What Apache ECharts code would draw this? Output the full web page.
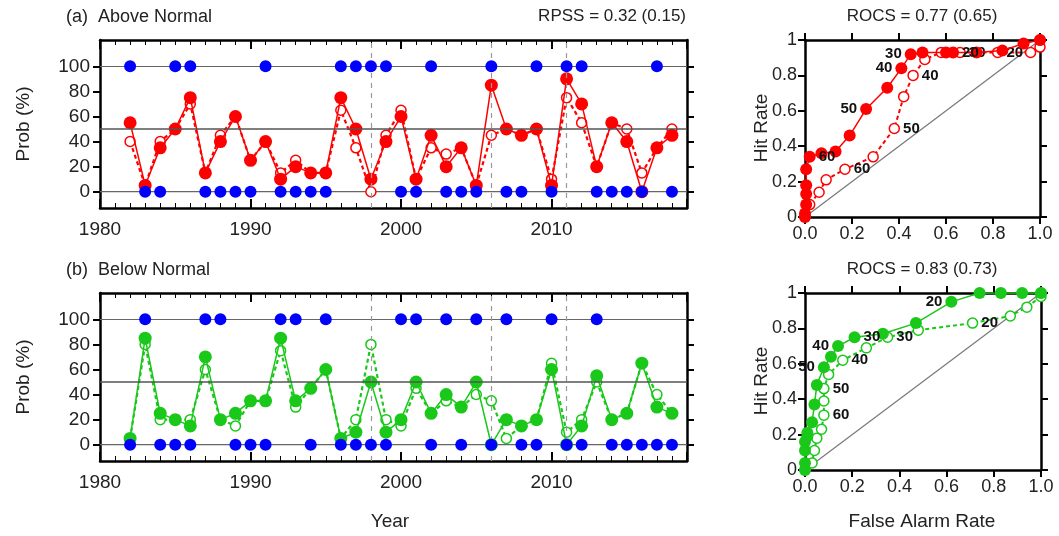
<!DOCTYPE html>
<html><head><meta charset="utf-8">
<script src="https://cdn.jsdelivr.net/npm/echarts@6/dist/echarts.min.js"></script>
<style>html,body{margin:0;background:#fff}#c{width:1059px;height:536px}</style>
</head><body><div id="c"></div>
<script>
var years = [1982,1983,1984,1985,1986,1987,1988,1989,1990,1991,1992,1993,1994,1995,1996,1997,1998,1999,2000,
  2001,2002,2003,2004,2005,2006,2007,2008,2009,2010,2011,2012,2013,2014,2015,2016,2017,2018];
// (a) above normal
var aboveProb = [55,5,35,50,75,15,40,60,25,40,10,20,15,15,75,50,10,40,60,10,45,20,35,5,85,50,45,50,5,90,70,20,55,40,0,35,45];
var aboveCv   = [40,5,40,50,70,15,45,60,25,40,15,25,15,15,65,35,0,45,65,10,35,30,35,5,45,50,45,50,10,75,55,20,55,50,15,35,50];
var aboveObs  = [100,0,0,100,100,0,0,0,0,100,0,0,0,0,100,100,100,100,0,0,100,0,0,0,100,0,0,100,0,100,100,0,0,0,0,100,0];
// (b) below normal
var belowProb = [5,85,25,20,15,70,20,25,35,35,85,35,45,60,5,10,50,10,20,50,25,40,30,50,0,20,15,20,60,0,15,55,20,25,65,30,25];
var belowCv   = [5,80,20,20,20,60,20,15,35,35,75,30,45,60,5,20,80,20,15,45,25,35,30,40,35,5,15,20,65,10,20,50,20,25,65,40,25];
var belowObs  = [0,100,0,0,0,100,100,0,0,0,100,100,0,100,0,0,0,0,100,100,0,100,0,100,0,100,0,0,100,0,0,100,0,0,0,0,0];
var splitYears = [1998, 2006, 2011];

// ROC curves [false alarm rate, hit rate]
var rocAbove = [[0,0],[0,0.02],[0.005,0.07],[0.005,0.13],[0.005,0.18],[0.005,0.27],[0.02,0.34],[0.07,0.36],[0.13,0.37],
  [0.19,0.46],[0.26,0.61],[0.35,0.73],[0.41,0.84],[0.45,0.92],[0.50,0.93],[0.60,0.93],[0.63,0.93],[0.73,0.93],[0.84,0.94],[0.93,0.98],[1,1]];
var rocAboveLab = {6:'60',10:'50',12:'40',13:'30',16:'20'};
var rocAboveCv = [[0,0],[0.02,0.07],[0.06,0.14],[0.09,0.21],[0.17,0.27],[0.29,0.34],[0.38,0.5],[0.42,0.68],[0.46,0.8],
  [0.51,0.89],[0.58,0.93],[0.66,0.93],[0.82,0.93],[0.96,0.93],[1,0.96],[1,1]];
var rocAboveCvLab = {4:'60',6:'50',8:'40',11:'30',12:'20'};
var rocBelow = [[0,0],[0,0.04],[0,0.11],[0,0.16],[0.01,0.19],[0.01,0.21],[0.03,0.27],[0.04,0.37],[0.05,0.48],[0.08,0.58],
  [0.11,0.64],[0.14,0.7],[0.21,0.75],[0.33,0.77],[0.47,0.83],[0.62,0.95],[0.74,1],[0.83,1],[0.92,1],[1,1]];
var rocBelowLab = {9:'50',11:'40',12:'30',15:'20'};
var rocBelowCv = [[0,0],[0.03,0.04],[0.04,0.11],[0.05,0.18],[0.07,0.23],[0.08,0.31],[0.08,0.39],[0.08,0.46],[0.1,0.54],
  [0.16,0.62],[0.26,0.69],[0.35,0.75],[0.48,0.79],[0.71,0.83],[0.87,0.87],[0.94,0.92],[1,0.98],[1,1]];
var rocBelowCvLab = {5:'60',7:'50',9:'40',11:'30',13:'20'};

var RED = '#ff0000', GREEN = '#19c819', BLUE = '#0000ff';
var FONT = 'Liberation Sans';
var chart = echarts.init(document.getElementById('c'));

function pairs(vals){ return years.map(function(y,i){ return [y, vals[i]]; }); }
function rocData(pts, labs, pos){
  return pts.map(function(p,i){
    if (labs[i] === undefined) return p;
    var left = (pos === 'auto') ? (labs[i] === '50' || labs[i] === '40' || labs[i] === '30') && pts === rocAbove || (pts === rocBelow && labs[i] !== '30') : false;
    return {value: p, label: {show: true, formatter: labs[i], position: pos === 'auto' ? (left ? 'left' : 'right') : pos,
      fontWeight: 'bold', fontSize: 15, color: '#111', fontFamily: FONT, distance: 3}};
  });
}

var grids = [
  {left: 100, top: 40, width: 587, height: 168},
  {left: 100, top: 293, width: 587, height: 168},
  {left: 805, top: 40, width: 235, height: 177},
  {left: 805, top: 293, width: 236, height: 177}
];
var axLine = {show: true, onZero: false, lineStyle: {color: '#000', width: 2.5}};
var xAxes = [], yAxes = [];
[0,1].forEach(function(g){
  xAxes.push({type:'value', gridIndex:g, min:1980, max:2019, interval:10, axisLine: axLine,
    axisTick:{inside:true, length:9, lineStyle:{width:2}}, minorTick:{show:true, splitNumber:10, length:5, lineStyle:{color:'#000'}},
    axisLabel:{fontSize:19, color:'#222', fontFamily:FONT, margin:12, showMaxLabel:false, formatter:function(v){return String(v);}}, splitLine:{show:false}});
  xAxes.push({type:'value', gridIndex:g, position:'top', min:1980, max:2019, interval:10, axisLine: axLine,
    axisTick:{inside:true, length:9, lineStyle:{width:2}}, minorTick:{show:true, splitNumber:10, length:5, lineStyle:{color:'#000'}},
    axisLabel:{show:false}, splitLine:{show:false}});
  yAxes.push({type:'value', gridIndex:g, min:-13, max:121, axisLine: axLine,
    axisTick:{inside:false, length:7, lineStyle:{width:2}, customValues:[0,20,40,60,80,100]},
    axisLabel:{fontSize:19, color:'#222', fontFamily:FONT, margin:10, customValues:[0,20,40,60,80,100]}, splitLine:{show:false}});
  yAxes.push({type:'value', gridIndex:g, position:'right', min:-13, max:121, axisLine: axLine,
    axisTick:{inside:false, length:7, lineStyle:{width:2}, customValues:[0,20,40,60,80,100]},
    axisLabel:{show:false}, splitLine:{show:false}});
});
[2,3].forEach(function(g){
  xAxes.push({type:'value', gridIndex:g, min:0, max:1, interval:0.2, axisLine: axLine,
    axisTick:{inside:false, length:7, lineStyle:{width:2}},
    axisLabel:{fontSize:18, color:'#222', fontFamily:FONT, margin:8, formatter:function(v){return v.toFixed(1);}}, splitLine:{show:false}});
  xAxes.push({type:'value', gridIndex:g, position:'top', min:0, max:1, interval:0.2, axisLine: axLine,
    axisTick:{inside:false, length:7, lineStyle:{width:2}}, axisLabel:{show:false}, splitLine:{show:false}});
  yAxes.push({type:'value', gridIndex:g, min:0, max:1, interval:0.2, axisLine: axLine,
    axisTick:{inside:false, length:7, lineStyle:{width:2}},
    axisLabel:{fontSize:18, color:'#222', fontFamily:FONT, margin:8, formatter:function(v){return v===0||v===1?String(v):v.toFixed(1);}}, splitLine:{show:false}});
  yAxes.push({type:'value', gridIndex:g, position:'right', min:0, max:1, interval:0.2, axisLine: axLine,
    axisTick:{inside:false, length:7, lineStyle:{width:2}}, axisLabel:{show:false}, splitLine:{show:false}});
});

var series = [];
function probPanel(g, prob, cv, obs, color){
  var xi = g*2, yi = g*2;
  series.push({type:'line', xAxisIndex:xi, yAxisIndex:yi, data:[[1980,0],[2019,0]], symbol:'none', silent:true,
    lineStyle:{color:'#666', width:1.2},
    markLine:{symbol:'none', silent:true, label:{show:false}, data:
      [{yAxis:50, lineStyle:{color:'#555', type:'solid', width:1.5}}, {yAxis:100, lineStyle:{color:'#666', type:'solid', width:1.2}}]
      .concat(splitYears.map(function(y){ return {xAxis:y, lineStyle:{color:'#999', type:[5,5], width:1.2}}; }))}});
  series.push({type:'line', xAxisIndex:xi, yAxisIndex:yi, data:pairs(cv), symbol:'circle', symbolSize:10,
    itemStyle:{color:'#fff', borderColor:color, borderWidth:1.5}, lineStyle:{color:color, width:2.2, type:[4,3]}, z:3});
  series.push({type:'line', xAxisIndex:xi, yAxisIndex:yi, data:pairs(prob), symbol:'circle', symbolSize:13,
    itemStyle:{color:color}, lineStyle:{color:color, width:1.5}, z:4});
  series.push({type:'scatter', xAxisIndex:xi, yAxisIndex:yi, data:pairs(obs), symbolSize:12, itemStyle:{color:BLUE, opacity:1}, z:5});
}
probPanel(0, aboveProb, aboveCv, aboveObs, RED);
probPanel(1, belowProb, belowCv, belowObs, GREEN);

function rocPanel(g, pts, labs, cvPts, cvLabs, color){
  var xi = 4 + (g-2)*2, yi = xi;
  series.push({type:'line', xAxisIndex:xi, yAxisIndex:yi, data:[[0,0],[1,1]], symbol:'none', silent:true, lineStyle:{color:'#777', width:1.2}});
  series.push({type:'line', xAxisIndex:xi, yAxisIndex:yi, data:rocData(cvPts, cvLabs, 'right'), symbol:'circle', symbolSize:10,
    itemStyle:{color:'#fff', borderColor:color, borderWidth:1.5}, lineStyle:{color:color, width:2, type:[4,3]}, z:3});
  series.push({type:'line', xAxisIndex:xi, yAxisIndex:yi, data:rocData(pts, labs, 'auto'), symbol:'circle', symbolSize:12,
    itemStyle:{color:color}, lineStyle:{color:color, width:1.5}, z:4});
}
rocPanel(2, rocAbove, rocAboveLab, rocAboveCv, rocAboveCvLab, RED);
rocPanel(3, rocBelow, rocBelowLab, rocBelowCv, rocBelowCvLab, GREEN);

function txt(x, y, s, opt){
  return Object.assign({type:'text', x:x, y:y, style:Object.assign({text:s, fontSize:18, fill:'#222', fontFamily:FONT}, opt||{})});
}
function vtxt(x, y, s){
  return {type:'text', x:x, y:y, rotation:Math.PI/2, style:{text:s, fontSize:19, fill:'#222', fontFamily:FONT, align:'center', verticalAlign:'middle'}};
}
var graphics = [
  txt(66, 8, '(a)  Above Normal'),
  txt(686, 8, 'RPSS = 0.32 (0.15)', {align:'right', fontSize:17}),
  txt(66, 261, '(b)  Below Normal'),
  txt(390, 512, 'Year', {align:'center', fontSize:19}),
  txt(922, 8, 'ROCS = 0.77 (0.65)', {align:'center', fontSize:17}),
  txt(922, 261, 'ROCS = 0.83 (0.73)', {align:'center', fontSize:17}),
  txt(922, 512, 'False Alarm Rate', {align:'center', fontSize:19}),
  vtxt(24, 124, 'Prob (%)'), vtxt(24, 377, 'Prob (%)'),
  vtxt(762, 128, 'Hit Rate'), vtxt(762, 381, 'Hit Rate')
];

chart.setOption({animation:false, grid:grids, xAxis:xAxes, yAxis:yAxes, series:series, graphic:graphics});
</script>
</body></html>
